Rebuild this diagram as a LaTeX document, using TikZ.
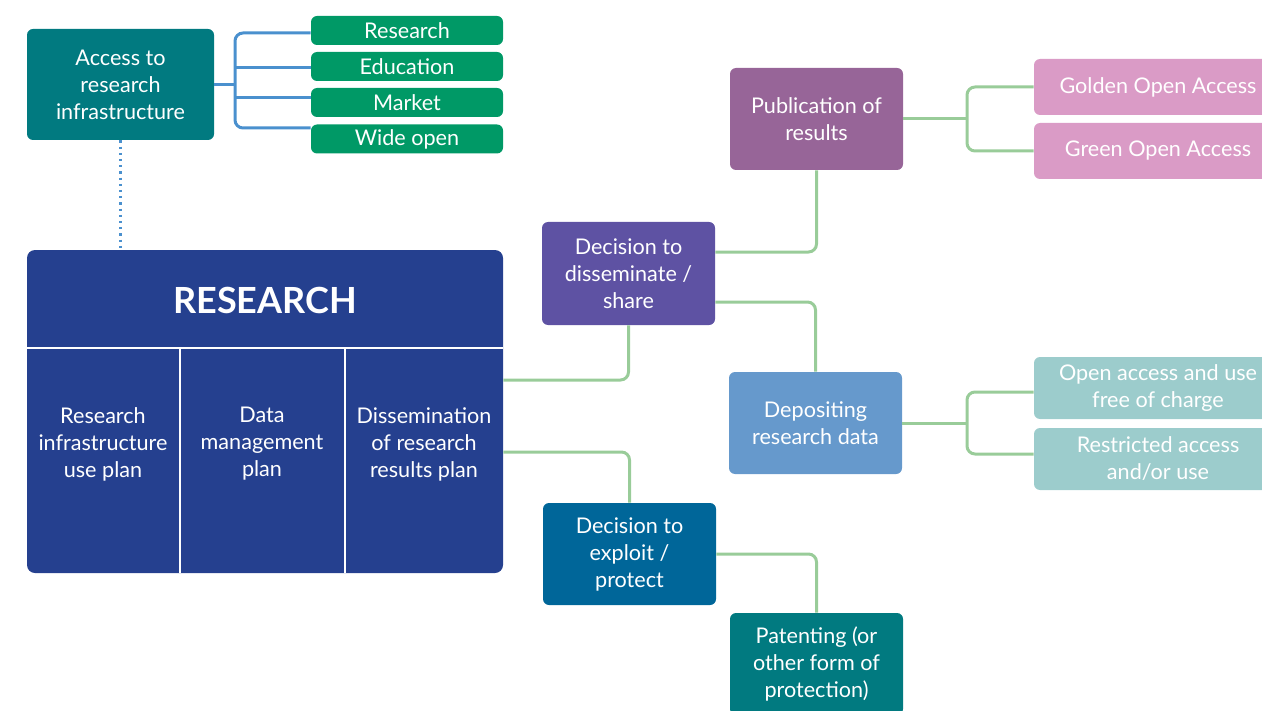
\documentclass[tikz,border=0pt]{standalone}
\usepackage{fontspec}
\setmainfont{Lato}
\usetikzlibrary{positioning}

\definecolor{accessteal}{RGB}{1,122,128}
\definecolor{optgreen}{RGB}{0,153,102}
\definecolor{bracketblue}{RGB}{74,144,206}
\definecolor{researchnavy}{RGB}{37,64,143}
\definecolor{dissempurple}{RGB}{94,82,163}
\definecolor{exploitblue}{RGB}{0,102,153}
\definecolor{pubmauve}{RGB}{151,101,152}
\definecolor{depoblue}{RGB}{102,153,204}
\definecolor{oapink}{RGB}{218,155,198}
\definecolor{datateal}{RGB}{156,204,204}
\definecolor{linkgreen}{RGB}{153,204,153}

\tikzset{
	box/.style={rounded corners=3pt, text=white, align=center, inner sep=0pt,
		font=\fontsize{10.8pt}{13.5pt}\selectfont},
	stagebox/.style={box, minimum width=86.5pt, minimum height=51pt},
	optbox/.style={box, fill=optgreen, minimum width=96pt, minimum height=14.5pt},
	oabox/.style={box, fill=oapink, minimum width=124pt, minimum height=28pt},
	databox/.style={box, fill=datateal, minimum width=124pt, minimum height=31pt},
	link/.style={linkgreen, line width=1.5pt, rounded corners=4pt},
	optlink/.style={bracketblue, line width=1.5pt, rounded corners=4pt},
}

\begin{document}
\begin{tikzpicture}[x=0.5pt,y=-0.5pt]
		\useasboundingbox (0,0) rectangle (1262,711);

		% access to infrastructure and its options
		\node[box, fill=accessteal, minimum width=93.5pt, minimum height=55.5pt] (access) at (120.5,84.5) {Access to\\research\\infrastructure};
		\node[optbox] (optres) at (407,30.5) {Research};
		\node[optbox] (optedu) at (407,66.5) {Education};
		\node[optbox] (optmkt) at (407,102.5) {Market};
		\node[optbox] (optwide) at (407,139) {Wide open};
		\coordinate (accfork) at (235,84.5);

		\draw[optlink] (access.east) -- (accfork);
		\draw[optlink] ([yshift=-1.25pt]optres.west) -| (accfork) |- ([yshift=5.5pt]optwide.west);
		\draw[optlink] ([yshift=-0.75pt]optedu.west) -- ([yshift=-0.75pt]optedu.west -| accfork);
		\draw[optlink] ([yshift=2.25pt]optmkt.west) -- ([yshift=2.25pt]optmkt.west -| accfork);

		% research block
		\node[rounded corners=4pt, fill=researchnavy, minimum width=238pt, minimum height=161.5pt] (research) at (265,411.5) {};
		\node[text=white, font=\fontsize{18pt}{20pt}\selectfont\bfseries] (restitle) at (265,300) {RESEARCH};
		\draw[white, line width=1pt] (27,348) -- (503,348);
		\draw[white, line width=1pt] (180,348) -- (180,573);
		\draw[white, line width=1pt] (345,348) -- (345,573);
		\node[box] (infraplan) at (103,444) {Research\\infrastructure\\use plan};
		\node[box] (dataplan) at (262,444) {Data\\management\\plan};
		\node[box] (dissplan) at (424,444) {Dissemination\\of research\\results plan};

		\draw[bracketblue, line width=1.1pt, dash pattern=on 1.1pt off 2pt] (access.south) -- (access.south |- research.north);

		% decisions
		\node[stagebox, fill=dissempurple, minimum height=51.5pt] (dissem) at (628.5,273.5) {Decision to\\disseminate /\\share};
		\node[stagebox, fill=exploitblue] (exploit) at (629.5,554) {Decision to\\exploit /\\protect};
		\node[stagebox, fill=pubmauve] (pub) at (816.5,119) {Publication of\\results};
		\node[stagebox, fill=depoblue] (depo) at (815.5,423) {Depositing\\research data};
		\node[stagebox, fill=accessteal] (patent) at (816.5,664) {Patenting (or\\other form of\\protection)};

		\draw[link] ([yshift=15.75pt]research.east) -| (dissem.south);
		\draw[link] ([yshift=-20.25pt]research.east) -| (exploit.north);
		\draw[link] ([yshift=10.75pt]dissem.east) -| (pub.south);
		\draw[link] ([yshift=-14.25pt]dissem.east) -| (depo.north);
		\draw[link] (exploit.east) -| (patent.north);

		% access options
		\node[oabox] (golden) at (1158,87) {Golden Open Access};
		\node[oabox] (greenoa) at (1158,151) {Green Open Access};
		\node[databox] (openuse) at (1158,388) {Open access and use\\free of charge};
		\node[databox] (restrict) at (1158,459) {Restricted access\\and/or use};
		\coordinate (pubfork) at (967,119);
		\coordinate (depofork) at (967,423);

		\draw[link] (pub.east) -- (pubfork);
		\draw[link] (golden.west) -| (pubfork) |- (greenoa.west);
		\draw[link] (depo.east) -- (depofork);
		\draw[link] ([yshift=-2pt]openuse.west) -| (depofork) |- ([yshift=2.5pt]restrict.west);
	\end{tikzpicture}
\end{document}
